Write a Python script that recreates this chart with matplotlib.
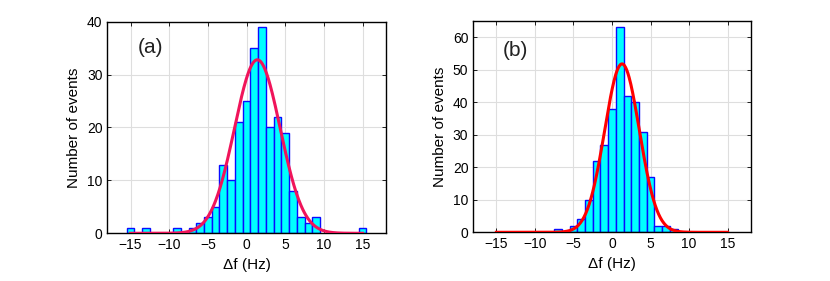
import matplotlib
matplotlib.use("Agg")
import matplotlib.pyplot as plt
import numpy as np

plt.rcParams['font.family'] = ['Liberation Sans', 'DejaVu Sans']

# histogram (a): bin centres (Hz) and counts
centers_a = [-15, -13, -9, -7, -6, -5, -4, -3, -2, -1, 0, 1, 2, 3, 4, 5, 6, 7, 8, 9, 15]
counts_a = [1, 1, 1, 1, 2, 3, 5, 13, 10, 21, 25, 35, 39, 20, 22, 19, 8, 3, 2, 3, 1]
# gaussian fit (a): amplitude, mean, sigma
fit_a = (32.8, 1.4, 2.95)

# histogram (b)
centers_b = [-7, -5, -4, -3, -2, -1, 0, 1, 2, 3, 4, 5, 6, 7, 8]
counts_b = [1, 2, 4, 10, 22, 27, 38, 63, 42, 40, 31, 17, 2, 2, 1]
fit_b = (51.8, 1.3, 2.25)

xticks = [-15, -10, -5, 0, 5, 10, 15]
yticks_a = [0, 10, 20, 30, 40]
yticks_b = [0, 10, 20, 30, 40, 50, 60]


def gauss(x, amp, mu, sig):
    return amp * np.exp(-(x - mu) ** 2 / (2 * sig ** 2))


def draw(ax, centers, counts, fit, color, yticks, ylim, label, lab_pos):
    ax.bar(centers, counts, width=1.0, color='#00ffff', edgecolor='#0a0aff',
           linewidth=1.0, zorder=2)
    xx = np.linspace(-15, 15, 400)
    ax.plot(xx, gauss(xx, *fit), color=color, lw=2.2, zorder=3)
    ax.set_xlim(-18, 18)
    ax.set_ylim(*ylim)
    ax.set_xticks(xticks)
    ax.set_yticks(yticks)
    ax.grid(True, color='#dedede', lw=0.8, zorder=0)
    ax.set_axisbelow(True)
    ax.tick_params(direction='in', top=True, right=True, length=3,
                   labelsize=10, width=0.6)
    for s in ax.spines.values():
        s.set_linewidth(1.0)
    ax.set_xlabel('Δf (Hz)', fontsize=11)
    ax.set_ylabel('Number of events', fontsize=11)
    ax.text(lab_pos[0], lab_pos[1], label, transform=ax.transAxes,
            fontsize=15, va='center', ha='left', color='#222222')


fig = plt.figure(figsize=(8.3, 2.81), dpi=100)
ax1 = fig.add_axes([0.1293, 0.1698, 0.3354, 0.753])
ax2 = fig.add_axes([0.5702, 0.1733, 0.3343, 0.752])

draw(ax1, centers_a, counts_a, fit_a, '#f0145a', yticks_a, (0, 40), '(a)', (0.11, 0.88))
draw(ax2, centers_b, counts_b, fit_b, '#ff0000', yticks_b, (0, 65), '(b)', (0.106, 0.86))

fig.savefig('out.png', dpi=100)
